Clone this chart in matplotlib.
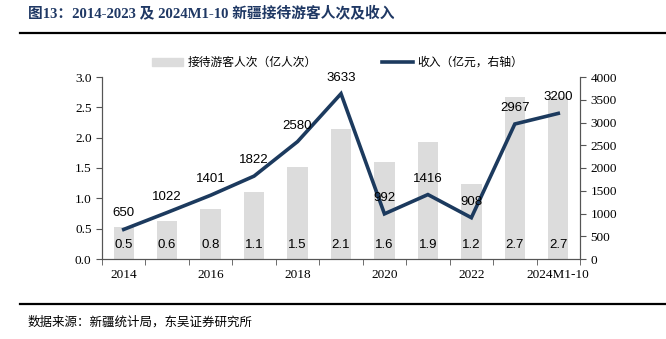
import matplotlib
matplotlib.use("Agg")
import matplotlib.pyplot as plt
import numpy as np

categories = ["2014", "2015", "2016", "2017", "2018", "2019", "2020", "2021", "2022", "2023", "2024M1-10"]
visitors = [0.53, 0.63, 0.83, 1.10, 1.52, 2.14, 1.60, 1.93, 1.24, 2.67, 2.67]
revenue = [650, 1022, 1401, 1822, 2580, 3633, 992, 1416, 908, 2967, 3200]
xtick_labels = ["2014", "", "2016", "", "2018", "", "2020", "", "2022", "", "2024M1-10"]
left_ticks = [0.0, 0.5, 1.0, 1.5, 2.0, 2.5, 3.0]
right_ticks = [0, 500, 1000, 1500, 2000, 2500, 3000, 3500, 4000]

SERIF = ["Liberation Serif", "Noto Sans CJK SC"]
CJK = ["Noto Sans CJK SC", "DejaVu Sans"]
SANS = ["Liberation Sans", "DejaVu Sans"]
NAVY = "#1c3a5e"
GRAY = "#dcdcdc"

W, H = 666, 339
fig = plt.figure(figsize=(W / 100, H / 100), dpi=100)

def fx(px):
    return px / W

def fy(py):
    return 1 - py / H

ax = fig.add_axes([fx(102), fy(259), fx(580) - fx(102), fy(77) - fy(259)])
ax2 = ax.twinx()

x = np.arange(len(categories))
ax.bar(x, visitors, width=0.47, color=GRAY, zorder=1)
for xi, v in zip(x, visitors):
    ax.text(xi, 0.23, f"{v:.1f}", ha="center", va="center", fontsize=9.5,
            family=SANS, color="black", zorder=5)

ax.set_xlim(-0.5, len(categories) - 0.5)
ax.set_ylim(0, 3.0)
ax.set_yticks(left_ticks)
ax.set_yticklabels([f"{t:.1f}" for t in left_ticks], family=SERIF, fontsize=9.5)
ax.set_xticks(x)
ax.set_xticklabels(xtick_labels, family=SERIF, fontsize=9.5)
ax.tick_params(axis="x", length=0, pad=7)
ax.set_xticks(np.arange(-0.5, len(categories) + 0.5, 1.0), minor=True)
ax.tick_params(axis="x", which="minor", length=4, direction="out", color="#555555")
ax.tick_params(axis="y", length=4, direction="out", color="#555555")

ax2.plot(x, revenue, color=NAVY, lw=2.6, zorder=4, solid_joinstyle="miter")
ax2.set_ylim(0, 4000)
ax2.set_yticks(right_ticks)
ax2.set_yticklabels([str(t) for t in right_ticks], family=SERIF, fontsize=9.5)
ax2.tick_params(axis="y", length=4, direction="out", color="#555555")
for xi, r in zip(x, revenue):
    ax2.text(xi, r + 350, f"{r}", ha="center", va="center", fontsize=9.5,
             family=SANS, color="black", zorder=6)

for a in (ax, ax2):
    a.spines["top"].set_visible(False)
    for s in ("left", "right", "bottom"):
        a.spines[s].set_color("#555555")
        a.spines[s].set_linewidth(0.8)
ax.set_zorder(ax2.get_zorder() - 1)
ax.patch.set_visible(False)
ax2.patch.set_visible(False)

# Title
fig.text(fx(28), fy(13), "图13：2014-2023 及 2024M1-10 新疆接待游客人次及收入",
         family=SERIF, fontsize=10.6, fontweight="bold", color="#1f3864",
         ha="left", va="center")
fig.add_artist(plt.Line2D([fx(20), fx(666)], [fy(33), fy(33)], color="black", lw=1.6))

# Legend
fig.add_artist(plt.Rectangle((fx(152), fy(66)), fx(183) - fx(152), fy(58) - fy(66),
                             color=GRAY, transform=fig.transFigure))
fig.text(fx(188), fy(62), "接待游客人次（亿人次）", family=CJK, fontsize=8.5,
         ha="left", va="center")
fig.add_artist(plt.Line2D([fx(382), fx(413)], [fy(62), fy(62)], color=NAVY, lw=2.6))
fig.text(fx(417), fy(62), "收入（亿元，右轴）", family=CJK, fontsize=8.5,
         ha="left", va="center")

# Footer
fig.add_artist(plt.Line2D([fx(20), fx(666)], [fy(304), fy(304)], color="black", lw=1.6))
fig.text(fx(28), fy(322), "数据来源：新疆统计局，东吴证券研究所", family=CJK,
         fontsize=9, ha="left", va="center")

fig.savefig("out.png", dpi=100)
